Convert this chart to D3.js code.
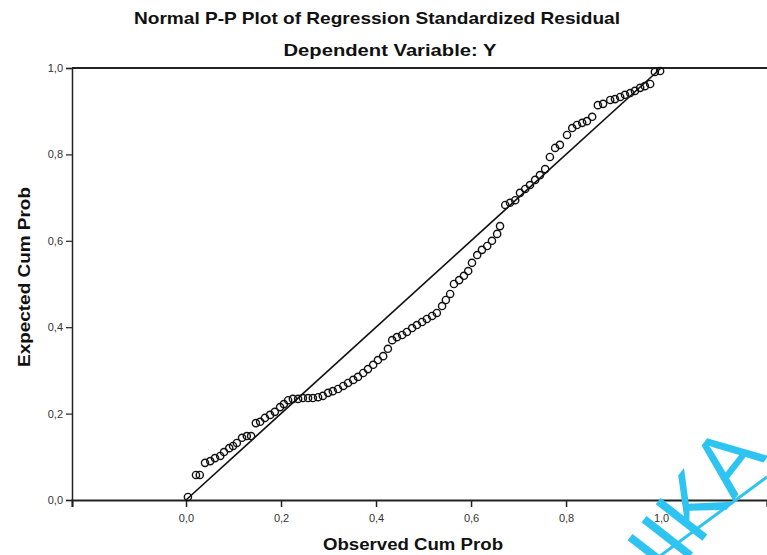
<!DOCTYPE html>
<html>
<head>
<meta charset="utf-8">
<script src="https://cdn.jsdelivr.net/npm/d3@7"></script>
<style>
  body { margin: 0; background: #fff; }
  svg { display: block; }
  text { font-family: "Liberation Sans", Arial, sans-serif; fill: #111; }
</style>
</head>
<body>
<svg id="chart" width="767" height="555"></svg>
<script>
// observed cum prob (x) and expected cum prob (y)
var observed = [0.004, 0.021, 0.029, 0.040, 0.051, 0.061, 0.072, 0.080, 0.091, 0.099,
  0.107, 0.118, 0.128, 0.137, 0.147, 0.156, 0.166, 0.177, 0.187, 0.198,
  0.206, 0.215, 0.225, 0.236, 0.246, 0.257, 0.267, 0.278, 0.288, 0.299,
  0.309, 0.320, 0.331, 0.341, 0.352, 0.362, 0.373, 0.383, 0.394, 0.404,
  0.415, 0.425, 0.434, 0.444, 0.455, 0.465, 0.476, 0.486, 0.497, 0.507,
  0.518, 0.528, 0.539, 0.547, 0.556, 0.564, 0.575, 0.585, 0.594, 0.602,
  0.613, 0.623, 0.634, 0.644, 0.655, 0.661, 0.672, 0.682, 0.693, 0.703,
  0.714, 0.724, 0.735, 0.745, 0.756, 0.766, 0.777, 0.787, 0.802, 0.813,
  0.823, 0.834, 0.844, 0.855, 0.867, 0.878, 0.893, 0.903, 0.914, 0.924,
  0.935, 0.945, 0.956, 0.966, 0.977, 0.987, 0.998];

var expected = [0.007, 0.058, 0.058, 0.086, 0.090, 0.097, 0.102, 0.111, 0.120, 0.125,
  0.132, 0.144, 0.148, 0.148, 0.178, 0.181, 0.190, 0.197, 0.204, 0.215,
  0.222, 0.231, 0.234, 0.234, 0.236, 0.236, 0.236, 0.238, 0.241, 0.248,
  0.252, 0.257, 0.264, 0.271, 0.278, 0.285, 0.294, 0.303, 0.313, 0.324,
  0.333, 0.350, 0.370, 0.377, 0.382, 0.389, 0.398, 0.405, 0.412, 0.419,
  0.426, 0.433, 0.449, 0.463, 0.477, 0.500, 0.509, 0.519, 0.530, 0.549,
  0.567, 0.579, 0.588, 0.600, 0.616, 0.634, 0.683, 0.688, 0.694, 0.711,
  0.720, 0.729, 0.741, 0.752, 0.766, 0.794, 0.815, 0.822, 0.845, 0.861,
  0.868, 0.873, 0.877, 0.887, 0.914, 0.917, 0.926, 0.928, 0.933, 0.938,
  0.942, 0.947, 0.954, 0.958, 0.963, 0.991, 0.993];

var tickVals = [0, 0.2, 0.4, 0.6, 0.8, 1.0];
var tickLabels = ["0,0", "0,2", "0,4", "0,6", "0,8", "1,0"];
var diagonal = [[0, 0], [1, 1]];

var titleText = "Normal P-P Plot of Regression Standardized Residual";
var subtitleText = "Dependent Variable: Y";
var xTitle = "Observed Cum Prob";
var yTitle = "Expected Cum Prob";

var pts = observed.map(function(d, i) { return {"ox": d, "ey": expected[i]}; });

var svg = d3.select("#chart");

// the plot frame is wider than the 0..1 range, like in spss output
var x = d3.scaleLinear().domain([-0.24, 1.223]).range([72, 767]);
var y = d3.scaleLinear().domain([0, 1]).range([500, 68]);

// titles
svg.append("text").attr("x", 377).attr("y", 24).attr("text-anchor", "middle")
  .style("font-size", "17px").style("font-weight", "bold")
  .attr("textLength", 486).attr("lengthAdjust", "spacingAndGlyphs")
  .text(titleText);
svg.append("text").attr("x", 390).attr("y", 56).attr("text-anchor", "middle")
  .style("font-size", "17px").style("font-weight", "bold")
  .attr("textLength", 213).attr("lengthAdjust", "spacingAndGlyphs")
  .text(subtitleText);

// frame top line
svg.append("line").attr("x1", 72).attr("x2", 767).attr("y1", y(1)).attr("y2", y(1))
  .attr("stroke", "#222").attr("stroke-width", 2);

// axes
var xAxis = d3.axisBottom(x).tickValues(tickVals).tickSize(7)
  .tickFormat(function(d, i) { return tickLabels[i]; });
var yAxis = d3.axisLeft(y).tickValues(tickVals).tickSize(6)
  .tickFormat(function(d, i) { return tickLabels[i]; });

var gx = svg.append("g").attr("transform", "translate(0," + y(0) + ")").call(xAxis);
gx.select(".domain").attr("stroke", "#222").attr("stroke-width", 2.2);
gx.selectAll(".tick line").attr("stroke", "#222").attr("stroke-width", 1.5);
gx.selectAll(".tick text").attr("dy", "1.1em").style("font-size", "11px").style("fill", "#333");

var gy = svg.append("g").attr("transform", "translate(72,0)").call(yAxis);
gy.select(".domain").attr("stroke", "#222").attr("stroke-width", 1.5);
gy.selectAll(".tick line").attr("stroke", "#222").attr("stroke-width", 1.2);
gy.selectAll(".tick text").attr("x", -9).style("font-size", "11px").style("fill", "#333");

// axis titles
svg.append("text").attr("x", 413).attr("y", 550).attr("text-anchor", "middle")
  .style("font-size", "16px").style("font-weight", "bold")
  .attr("textLength", 180).attr("lengthAdjust", "spacingAndGlyphs")
  .text(xTitle);
svg.append("text").attr("transform", "translate(30,277) rotate(-90)").attr("text-anchor", "middle")
  .style("font-size", "16px").style("font-weight", "bold")
  .attr("textLength", 180).attr("lengthAdjust", "spacingAndGlyphs")
  .text(yTitle);

// reference diagonal
svg.append("path").datum(diagonal)
  .attr("d", d3.line().x(function(d) { return x(d[0]); }).y(function(d) { return y(d[1]); }))
  .attr("stroke", "#111").attr("stroke-width", 1.6).attr("fill", "none");

// points
svg.append("g").selectAll("circle").data(pts).enter().append("circle")
  .attr("cx", function(d) { return x(d.ox); })
  .attr("cy", function(d) { return y(d.ey); })
  .attr("r", 3.6)
  .attr("fill", "none").attr("stroke", "#111").attr("stroke-width", 1.4);

// watermark fragment bottom-right (cut by the edge, as in the source)
var wm = svg.append("g").attr("transform", "translate(645,614) rotate(-52)");
wm.append("text").attr("x", 0).attr("y", 0)
  .style("font-size", "86px").style("fill", "#2ec4f2")
  .text("UIKA");
svg.append("line").attr("x1", 660).attr("y1", 556).attr("x2", 767).attr("y2", 477)
  .attr("stroke", "#2ec4f2").attr("stroke-width", 3);
</script>
</body>
</html>
